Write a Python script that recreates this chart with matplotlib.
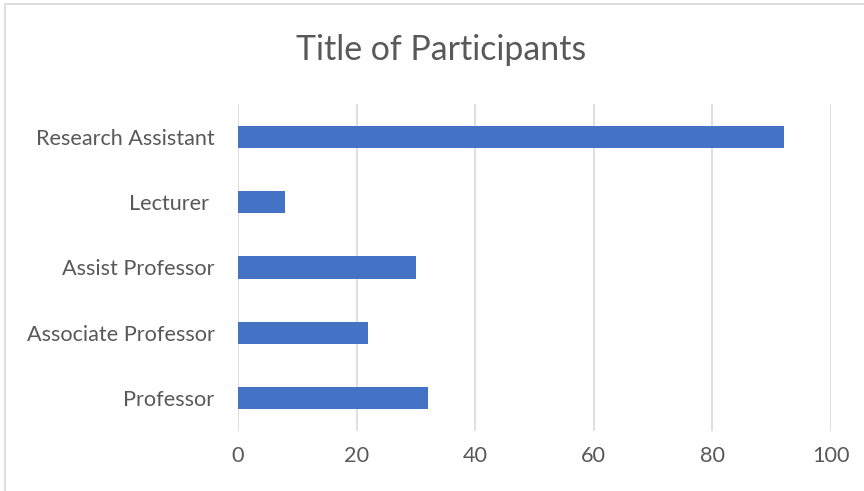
import matplotlib.pyplot as plt
from matplotlib.patches import Rectangle

# =========================
# DATA
# =========================
categories = ["Professor", "Associate Professor", "Assist Professor", "Lecturer ", "Research Assistant"]
counts = [32, 22, 30, 8, 92]
x_ticks = [0, 20, 40, 60, 80, 100]

BAR_COLOR = "#4472c4"
TEXT_COLOR = "#595959"
GRID_COLOR = "#d9d9d9"

plt.rcParams["font.family"] = ["Lato", "DejaVu Sans"]

fig = plt.figure(figsize=(8.64, 4.91), dpi=100)
ax = fig.add_axes([0.2755, 0.1232, 0.6863, 0.664])

ax.barh(range(len(categories)), counts, height=0.34, color=BAR_COLOR, zorder=3)

ax.set_xlim(0, 100)
ax.set_ylim(-0.5, len(categories) - 0.5)
ax.set_xticks(x_ticks)
ax.set_yticks(range(len(categories)))
ax.set_yticklabels(categories)

ax.grid(axis="x", color=GRID_COLOR, linewidth=1.2, zorder=0)
ax.tick_params(axis="both", length=0, labelsize=15.6, colors=TEXT_COLOR)
ax.tick_params(axis="y", pad=17)
ax.tick_params(axis="x", pad=11)
for s in ax.spines.values():
    s.set_visible(False)

fig.text(0.51, 0.898, "Title of Participants", ha="center", va="center",
         fontsize=24.4, color=TEXT_COLOR)

# chart frame (light border, cropped at right/bottom)
fig.patches.append(Rectangle((5 / 864, -0.05), 1.0, 1 - 4 / 491 + 0.05,
                             transform=fig.transFigure, fill=False,
                             edgecolor=GRID_COLOR, linewidth=1.2))

fig.savefig("out.png", dpi=100)
